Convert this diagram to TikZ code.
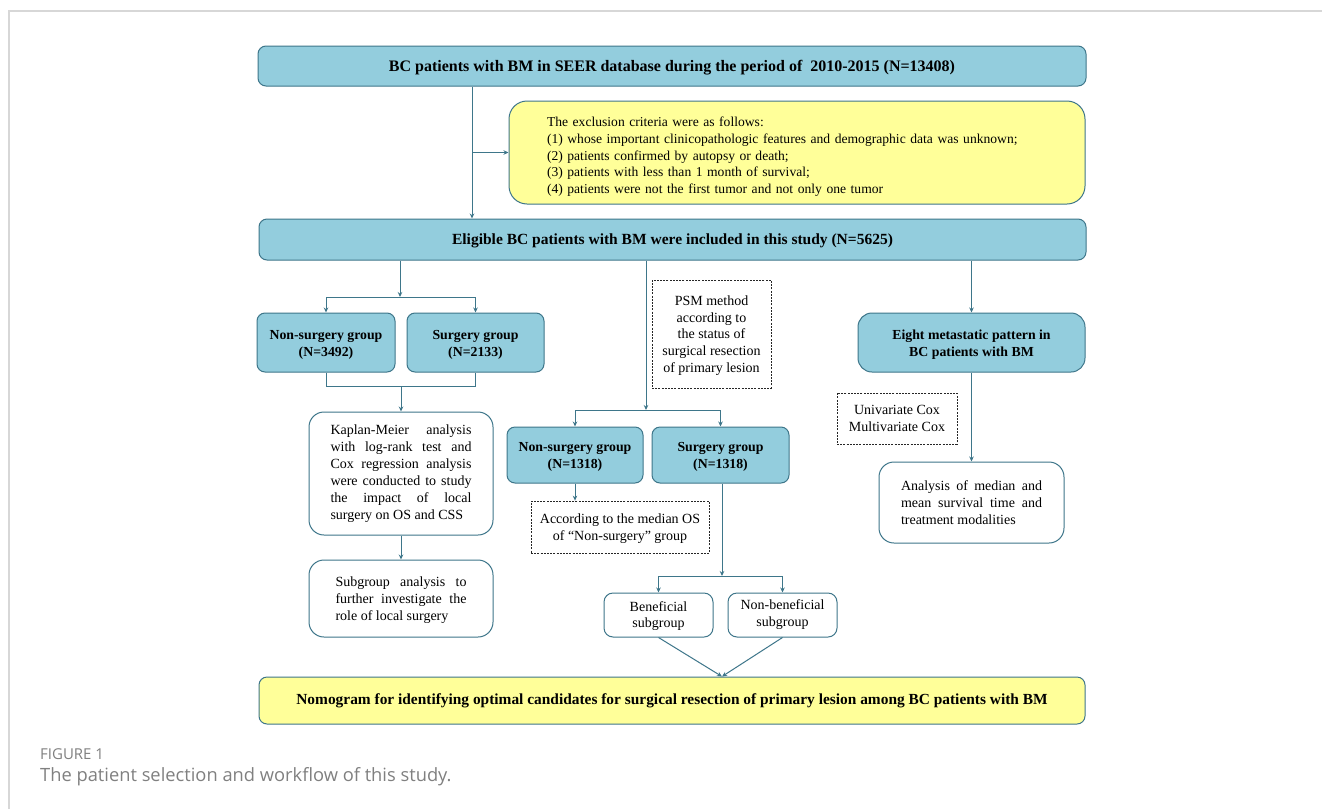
\documentclass[tikz,border=0pt]{standalone}
\usepackage{fontspec}
\setmainfont{Liberation Serif}
\newfontfamily\capfont{Open Sans}
\usetikzlibrary{arrows.meta}
\definecolor{bluef}{RGB}{147,205,221}
\definecolor{bord}{RGB}{62,118,138}
\definecolor{linec}{RGB}{62,118,138}
\definecolor{yell}{RGB}{255,255,153}
\definecolor{capgray}{RGB}{128,128,128}
\definecolor{framegray}{RGB}{215,215,215}
\newcommand{\jl}[2]{\makebox[#1][s]{#2}}
\begin{document}
\begin{tikzpicture}[x=1pt,y=-1pt,
  bbox/.style={draw=bord, fill=bluef, rounded corners=8pt, line width=1pt, inner sep=0pt, align=center,
     font=\bfseries\fontsize{13.8}{17}\selectfont},
  hbox/.style={bbox, font=\bfseries\fontsize{15.5}{17}\selectfont},
  ybox/.style={draw=bord, fill=yell, line width=1pt, inner sep=0pt},
  wbox/.style={draw=bord, fill=white, rounded corners=15pt, line width=1pt, inner sep=0pt, align=left,
     font=\fontsize{14}{17}\selectfont},
  sbox/.style={draw=bord, fill=white, rounded corners=9pt, line width=1pt, inner sep=0pt, align=center,
     font=\fontsize{14}{17}\selectfont},
  dbox/.style={draw=black!85, dash pattern=on 2pt off 1.2pt, line width=0.8pt, inner sep=0pt, align=center,
     font=\fontsize{14}{16.8}\selectfont},
  arr/.style={draw=linec, line width=1pt, -{Stealth[length=5pt,width=4.5pt]}},
  ln/.style={draw=linec, line width=1pt}]
\useasboundingbox (0,0) rectangle (1322,809);
\fill[white] (0,0) rectangle (1322,809);
\draw[framegray, line width=1.3pt] (9,809) -- (9,11) -- (1322,11);

% nodes
\node[hbox, font=\bfseries\fontsize{16}{17}\selectfont, minimum width=828pt, minimum height=40pt] (top) at (672,66)
  {\rule{0pt}{14pt}BC patients with BM in SEER database during the period of\ \ 2010-2015 (N=13408)};
\node[ybox, rounded corners=18pt, minimum width=576pt, minimum height=103pt, text width=500pt, inner xsep=38pt, align=left,
  font=\fontsize{13.6}{16.7}\selectfont] (excl) at (797,152.5)
  {\rule{0pt}{18pt}The exclusion criteria were as follows:\\
   (1) whose important clinicopathologic features and demographic data was unknown;\\
   (2) patients confirmed by autopsy or death;\\
   (3) patients with less than 1 month of survival;\\
   (4) patients were not the first tumor and not only one tumor};
\node[hbox, minimum width=827pt, minimum height=41pt] (elig) at (672.5,239.5)
  {\rule{0pt}{14pt}Eligible BC patients with BM were included in this study (N=5625)};

\node[bbox, minimum width=138pt, minimum height=59pt] (ns1) at (326,342.5) {\rule{0pt}{13pt}Non-surgery group\\(N=3492)};
\node[bbox, minimum width=137pt, minimum height=59pt] (s1) at (475.5,342.5) {\rule{0pt}{13pt}Surgery group\\(N=2133)};
\node[wbox, minimum width=184pt, minimum height=123pt] (km) at (401,473.5)
  {\jl{141pt}{Kaplan-Meier analysis}\\
   \jl{141pt}{with log-rank test and}\\
   \jl{141pt}{Cox regression analysis}\\
   \jl{141pt}{were conducted to study}\\
   \jl{141pt}{the impact of local}\\
   \makebox[141pt][l]{surgery on OS and CSS}};
\node[wbox, minimum width=184pt, minimum height=77pt] (sub) at (401,598.5)
  {\rule{0pt}{13pt}\jl{131pt}{Subgroup analysis to}\\
   \jl{131pt}{further investigate the}\\
   \makebox[131pt][l]{role of local surgery}};

\node[dbox, minimum width=119pt, minimum height=108pt] (psm) at (711.5,334)
  {\rule{0pt}{13pt}PSM method\\according to\\the status of\\surgical resection\\of primary lesion};
\node[bbox, minimum width=136pt, minimum height=56pt] (ns2) at (575,455) {\rule{0pt}{13pt}Non-surgery group\\(N=1318)};
\node[bbox, minimum width=137pt, minimum height=56pt] (s2) at (720.5,455) {\rule{0pt}{13pt}Surgery group\\(N=1318)};
\node[dbox, minimum width=178pt, minimum height=52pt] (acc) at (620,527)
  {\rule{0pt}{13pt}According to the median OS\\of ``Non-surgery'' group};
\node[sbox, minimum width=109pt, minimum height=44pt] (ben) at (658.5,615) {\rule{0pt}{12pt}Beneficial\\subgroup};
\node[sbox, minimum width=109pt, minimum height=44pt] (nben) at (782.5,615) {Non-beneficial\\subgroup};

\node[bbox, rounded corners=14pt, minimum width=227pt, minimum height=59pt] (eight) at (971.5,342.5)
  {\rule{0pt}{13pt}Eight metastatic pattern in\\BC patients with BM};
\node[dbox, minimum width=120pt, minimum height=51pt] (uni) at (897,418.5) {Univariate Cox\\Multivariate Cox};
\node[wbox, minimum width=185pt, minimum height=81pt] (ana) at (971.5,502.5)
  {\jl{141pt}{Analysis of median and}\\
   \jl{141pt}{mean survival time and}\\
   \makebox[141pt][l]{treatment modalities}};

\node[ybox, rounded corners=8pt, minimum width=826pt, minimum height=47pt, font=\bfseries\fontsize{15.4}{17}\selectfont] (nomo) at (672,700.5)
  {Nomogram for identifying optimal candidates for surgical resection of primary lesion among BC patients with BM};

% caption
\node[anchor=west, inner sep=0pt, text=capgray, font=\capfont\fontsize{15}{17}\selectfont] (figlab) at (40,754) {FIGURE 1};
\node[anchor=west, inner sep=0pt, text=capgray, font=\capfont\fontsize{18.3}{21}\selectfont] (cap) at (40,777) {The patient selection and workflow of this study.};

% connector coordinates
\coordinate (xA) at (472,0);
\coordinate (j1) at (400,297);
\coordinate (j2) at (401,386);
\coordinate (j3) at (646,410);
\coordinate (j4) at (722,576);

\draw[arr] (top.south -| xA) -- (elig.north -| xA);
\draw[arr] (xA |- excl.west) -- (excl.west);

\draw[arr] (elig.south -| j1) -- (j1);
\draw[arr] (j1) -| (ns1.north);
\draw[arr] (j1) -| (s1.north);
\draw[ln] (ns1.south) -- (ns1.south |- j2) -- (s1.south |- j2) -- (s1.south);
\draw[arr] (j2) -- (km.north);
\draw[arr] (km.south) -- (sub.north);

\draw[arr] (elig.south -| j3) -- (j3);
\draw[arr] (j3) -| (ns2.north);
\draw[arr] (j3) -| (s2.north);
\draw[arr] (ns2.south) -- (ns2.south |- acc.north);
\draw[arr] (s2.south -| j4) -- (j4);
\draw[arr] (j4) -| (ben.north);
\draw[arr] (j4) -| (nben.north);
\draw[arr] (ben.south) -- (nomo.north -| j4);
\draw[arr] (nben.south) -- (nomo.north -| j4);

\draw[arr] (elig.south -| eight.north) -- (eight.north);
\draw[arr] (eight.south) -- (ana.north);
\end{tikzpicture}
\end{document}
